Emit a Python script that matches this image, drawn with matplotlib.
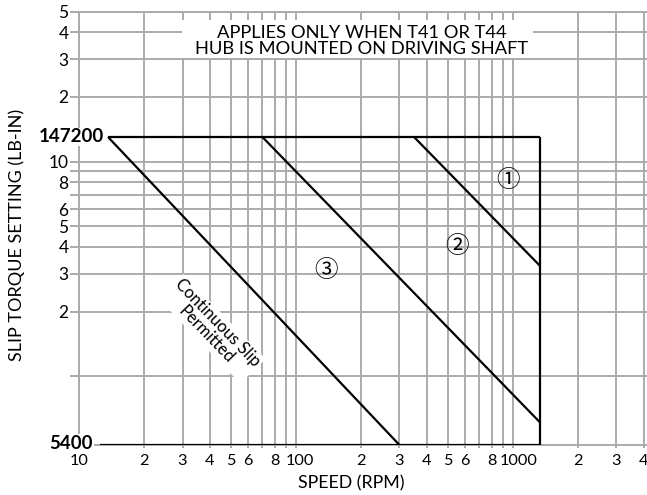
import numpy as np
import matplotlib
matplotlib.use('Agg')
import matplotlib.pyplot as plt
from matplotlib.patches import Rectangle
from matplotlib.ticker import FixedLocator, NullFormatter, FixedFormatter
from matplotlib.transforms import ScaledTranslation

plt.rcParams['font.family'] = ['Lato', 'DejaVu Sans', 'Noto Sans CJK JP']

# ---- data ----
torque_max = 147200          # lb-in, top of operating box
torque_min = 5400            # lb-in, bottom of operating box
speed_max = 1330             # rpm, right edge of operating box
top_line_start = 13.6        # rpm where top edge begins
bottom_line_start = 12.5     # rpm where bottom edge begins

slip_speed = [13.6, 300]
slip_torque = [147200, 5400]
zone23_speed = [70, 1330]
zone23_torque = [147200, 6900]
zone12_speed = [350, 1330]
zone12_torque = [147200, 37000]

zone_labels = ['\u2460', '\u2461', '\u2462']
zone_label_speed = [948, 552, 138]
zone_label_torque = [91800, 45300, 35000]

slip_text = 'Continuous Slip\nPermitted'
slip_text_speed = 41
slip_text_torque = 18800

note_text = 'APPLIES ONLY WHEN T41 OR T44\nHUB IS MOUNTED ON DRIVING SHAFT'

# log-paper grid (grid unit in lb-in)
grid_unit = 11300
y_major = [2, 3, 4, 5, 6, 8, 10, 20, 30, 40, 50]
y_major_labels = ['2', '3', '4', '5', '6', '8', '10', '2', '3', '4', '5']
y_minor = [1, 7, 9]
x_major = [10, 20, 30, 40, 50, 60, 80, 100, 200, 300, 400, 500, 600, 800,
           1000, 2000, 3000, 4000]
x_major_labels = ['10', '2', '3', '4', '5', '6', '8', '100', '2', '3', '4',
                  '5', '6', '8', '1000', '2', '3', '4']
x_minor = [70, 90, 700, 900]
x_limits = [10, 4150]

# ---- figure ----
W, H = 647, 495
fig = plt.figure(figsize=(W / 100, H / 100), dpi=100)
ax = fig.add_axes([79 / W, 50 / H, 568 / W, 433.4 / H])
ax.set_xscale('log')
ax.set_yscale('log')
ax.set_xlim(*x_limits)
ax.set_ylim(torque_min, y_major[-1] * grid_unit)

gcol = '#ababab'
glw = 1.4
ax.xaxis.set_major_locator(FixedLocator(x_major))
ax.xaxis.set_major_formatter(FixedFormatter(x_major_labels))
ax.xaxis.set_minor_locator(FixedLocator(x_minor))
ax.xaxis.set_minor_formatter(NullFormatter())
ax.yaxis.set_major_locator(FixedLocator([v * grid_unit for v in y_major]))
ax.yaxis.set_major_formatter(FixedFormatter(y_major_labels))
ax.yaxis.set_minor_locator(FixedLocator([v * grid_unit for v in y_minor]))
ax.yaxis.set_minor_formatter(NullFormatter())

ax.grid(True, which='both', color=gcol, lw=glw)
ax.set_axisbelow(True)
ax.tick_params(axis='y', which='both', length=6.5, width=glw, color=gcol,
               labelsize=12.5, pad=1)
ax.tick_params(axis='x', which='both', length=2, width=glw, color=gcol,
               labelsize=11.7, pad=4.5)
for s in ['left', 'bottom', 'top']:
    ax.spines[s].set_color(gcol)
    ax.spines[s].set_linewidth(glw)
ax.spines['right'].set_visible(False)

# nudge decade labels right (as on the original log paper)
for tick, lab in zip(ax.xaxis.get_major_ticks(), x_major_labels):
    if lab in ('100', '1000'):
        shift = 4 if lab == '100' else 6
        tick.label1.set_transform(tick.label1.get_transform() +
                                  ScaledTranslation(shift / 100, 0,
                                                    fig.dpi_scale_trans))

# operating box
lk = dict(color='black', lw=1.6, zorder=4, solid_capstyle='butt')
ax.plot([top_line_start, speed_max], [torque_max, torque_max], **lk)
ax.plot([bottom_line_start, speed_max], [torque_min, torque_min], **lk)
ax.plot([speed_max, speed_max], [torque_min, torque_max], **lk)
ax.plot(slip_speed, slip_torque, **lk)
ax.plot(zone23_speed, zone23_torque, **lk)
ax.plot(zone12_speed, zone12_torque, **lk)

# torque labels
ax.annotate(f'{torque_max}', xy=(top_line_start, torque_max), xytext=(-3, 0),
            textcoords='offset points', ha='right', va='center',
            fontsize=13.5, fontweight='bold', annotation_clip=False, zorder=6,
            bbox=dict(boxstyle='square,pad=0.05', fc='white', ec='none'))
ax.annotate(f'{torque_min}', xy=(bottom_line_start, torque_min), xytext=(-5, 1),
            textcoords='offset points', ha='right', va='center',
            fontsize=13.5, fontweight='bold', annotation_clip=False, zorder=6,
            bbox=dict(boxstyle='square,pad=0.05', fc='white', ec='none'))

# zone labels
for lab, xs, ys in zip(zone_labels, zone_label_speed, zone_label_torque):
    ax.text(xs, ys, lab, ha='center', va='center', fontsize=17,
            family=['Noto Sans CJK JP', 'DejaVu Sans'], zorder=5)

ax.text(slip_text_speed, slip_text_torque, slip_text, rotation=-46,
        ha='center', va='center', fontsize=12, linespacing=1.0,
        rotation_mode='anchor', zorder=5,
        bbox=dict(boxstyle='square,pad=0.1', fc='white', ec='none'))

# note box
ax.add_patch(Rectangle((0.181, 0.893), 0.618, 0.088, transform=ax.transAxes,
                       fc='white', ec='none', zorder=2))
ax.text(0.498, 0.932, note_text, transform=ax.transAxes, ha='center',
        va='center', fontsize=13.2, linespacing=1.0, zorder=3)

ax.set_xlabel('SPEED (RPM)', fontsize=12.8, va='center')
ax.xaxis.set_label_coords(0.479, -0.0877)
ax.set_ylabel('SLIP TORQUE SETTING (LB-IN)', fontsize=13, va='center')
ax.yaxis.set_label_coords(-0.109, 0.485)

fig.savefig('out.png', dpi=100)
